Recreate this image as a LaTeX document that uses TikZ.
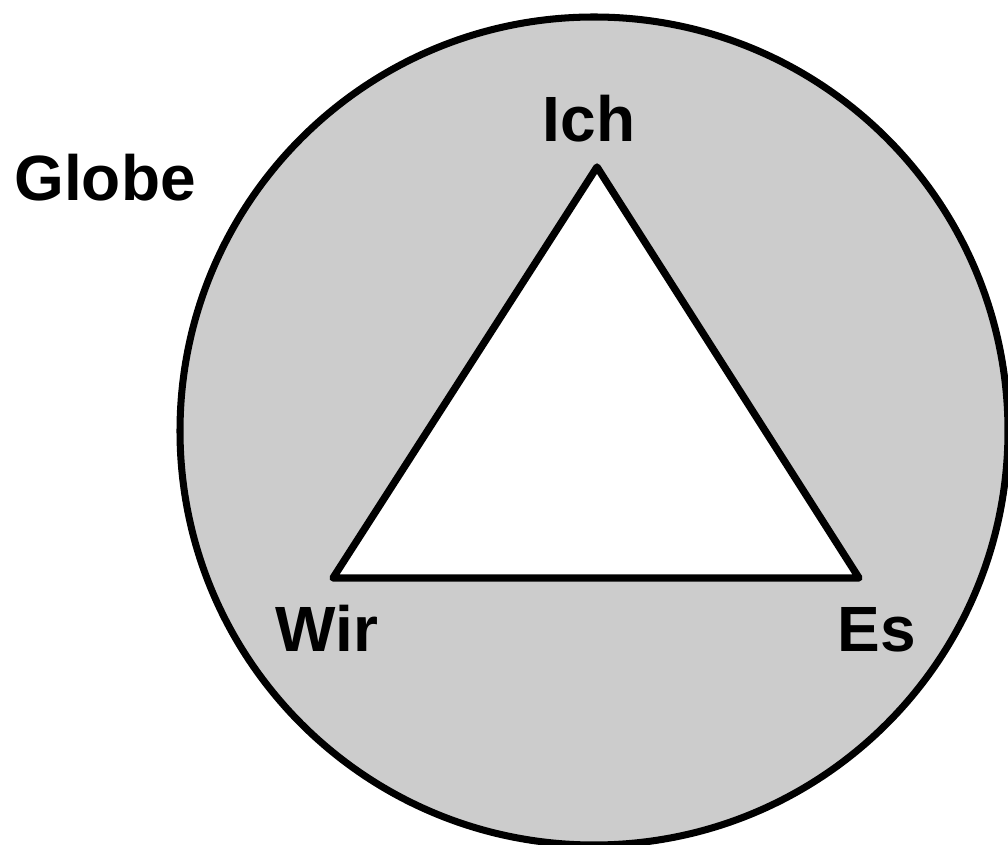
\documentclass[tikz,border=0pt]{standalone}
\usepackage{fontspec}
\setmainfont{Liberation Sans}
\usetikzlibrary{positioning}

\definecolor{globegray}{gray}{0.8}
\tikzset{
  lbl/.style={font=\bfseries\fontsize{45.5}{52}\selectfont, anchor=base, inner sep=0pt},
}

\begin{document}
\begin{tikzpicture}[x=0.025cm,y=-0.025cm]
\useasboundingbox (0,0) rectangle (1008,845);
\def\rglobe{414}
\coordinate (C) at (594,431);
\coordinate (I) at (597,167);
\coordinate (W) at (333,578);
\coordinate (E) at (859,578);

% globe
\filldraw[fill=globegray,draw=black,line width=5pt] (C) circle [x radius=\rglobe, y radius=\rglobe];
% triangle
\filldraw[fill=white,draw=black,line width=5.2pt,line join=round] (I) -- (W) -- (E) -- cycle;

\node[lbl] (ich) at (589,142) {Ich};
\node[lbl] (globe) at (105,201) {Globe};
\node[lbl] (wir) at (327,652) {Wir};
\node[lbl] (es) at (877,652) {Es};
\end{tikzpicture}
\end{document}
